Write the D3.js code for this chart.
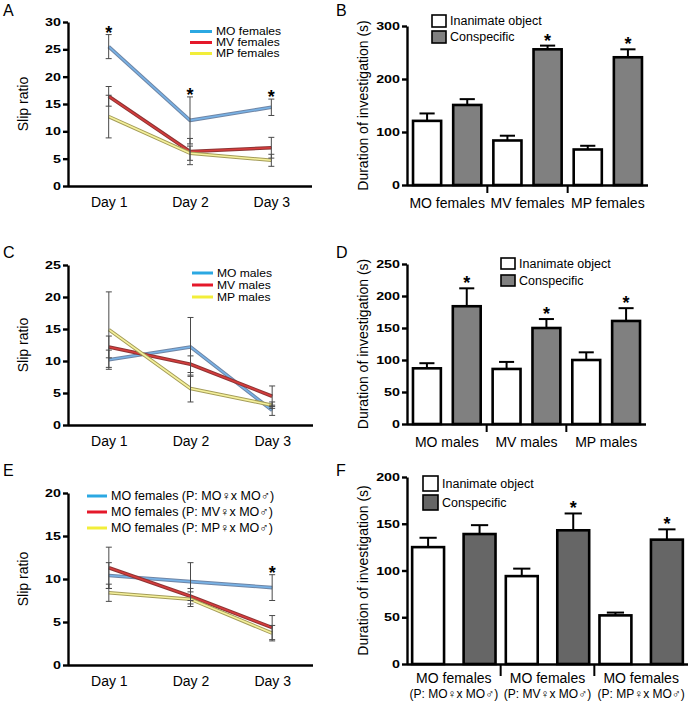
<!DOCTYPE html>
<html><head><meta charset="utf-8">
<script src="https://cdn.jsdelivr.net/npm/d3@7"></script>
<style>
body{margin:0;background:#fff}
svg{display:block}
</style>
</head><body>
<svg id="c" width="693" height="704"></svg>
<script>
// ---------- DATA ----------
const days = ["Day 1", "Day 2", "Day 3"];

// Panel A (slip ratio, females)
const aNames = ["MO females", "MV females", "MP females"];
const aMO = [25.5, 12.0, 14.4];  const aMOErr = [2.2, 4.3, 1.5];
const aMV = [16.4, 6.3, 7.0];    const aMVErr = [1.8, 2.4, 1.9];
const aMP = [12.7, 6.0, 4.7];    const aMPErr = [3.9, 1.3, 1.1];
const aStars = [true, true, true];
const aTicks = [0, 5, 10, 15, 20, 25, 30];

// Panel C (slip ratio, males)
const cNames = ["MO males", "MV males", "MP males"];
const cMO = [10.2, 12.2, 2.3];   const cMOErr = [1.5, 4.6, 0.8];
const cMV = [12.2, 9.5, 4.5];    const cMVErr = [1.7, 1.3, 1.6];
const cMP = [14.9, 5.7, 3.1];    const cMPErr = [5.9, 2.1, 0.5];
const cStars = [false, false, false];
const cTicks = [0, 5, 10, 15, 20, 25];

// Panel E (slip ratio, MO females from crosses)
const eNames = ["MO females (P: MO\u2640x MO\u2642)", "MO females (P: MV\u2640x MO\u2642)", "MO females (P: MP\u2640x MO\u2642)"];
const eMO = [10.4, 9.7, 9.0];    const eMOErr = [1.5, 2.2, 1.5];
const eMV = [11.3, 8.0, 4.35];   const eMVErr = [2.4, 0.9, 1.4];
const eMP = [8.4, 7.65, 3.7];    const eMPErr = [1.0, 0.85, 0.9];
const eStars = [false, false, true];
const eTicks = [0, 5, 10, 15, 20];

// Bar panels
const barSeries = ["Inanimate object", "Conspecific"];

const bGroups = ["MO females", "MV females", "MP females"];
const bObject = [121, 84, 67];        const bObjectErr = [14, 9, 7];
const bConspecific = [151, 256, 241]; const bConspecificErr = [11, 7, 15];
const bStars = [false, true, true];
const bTicks = [0, 100, 200, 300];

const dGroups = ["MO males", "MV males", "MP males"];
const dObject = [87, 86, 100];        const dObjectErr = [8, 11, 12];
const dConspecific = [184, 150, 161]; const dConspecificErr = [28, 14, 20];
const dStars = [true, true, true];
const dTicks = [0, 50, 100, 150, 200, 250];

const fGroups = ["MO females", "MO females", "MO females"];
const fParents = ["(P: MO\u2640x MO\u2642)", "(P: MV\u2640x MO\u2642)", "(P: MP\u2640x MO\u2642)"];
const fObject = [125, 94, 52];        const fObjectErr = [10, 8, 3];
const fConspecific = [139, 143, 133]; const fConspecificErr = [9.5, 18, 11];
const fStars = [false, true, true];
const fTicks = [0, 50, 100, 150, 200];

// ---------- STYLE ----------
const FONT = '"Liberation Sans", Arial, Helvetica, sans-serif';
const lineStyles = [
  {edge: "#6f86a6", core: "#78b2e6", legend: "#2ba8e2"},
  {edge: "#8e3434", core: "#d63c3c", legend: "#e4182a"},
  {edge: "#a49c58", core: "#f5f19c", legend: "#f2ee3a"}
];

const svg = d3.select("#c");

function stretch(sel, sx) {
  sel.each(function () {
    const t = d3.select(this);
    const x = +t.attr("x") || 0;
    t.attr("transform", `translate(${x},0) scale(${sx},1) translate(${-x},0)`);
  });
}

function panelLetter(t, x, y) {
  svg.append("text").attr("x", x).attr("y", y).text(t)
    .attr("font-family", FONT).attr("font-size", 16).attr("fill", "#000");
}

function styleAxis(sel, w) {
  sel.attr("font-family", FONT);
  sel.select(".domain").attr("stroke", "#000").attr("stroke-width", w);
  sel.selectAll(".tick line").attr("stroke", "#000").attr("stroke-width", w);
  sel.selectAll(".tick text").attr("fill", "#000");
}

function yAxis(g, y, p) {
  const ya = g.append("g").attr("transform", `translate(${p.x0},0)`)
    .call(d3.axisLeft(y).tickValues(p.ticks).tickSize(5).tickPadding(2).tickSizeOuter(0));
  styleAxis(ya, 2.4);
  const tt = ya.selectAll(".tick text").attr("font-size", 11).attr("font-weight", "bold");
  stretch(tt, 1.3);
  return ya;
}

function linePanel(p) {
  const g = svg.append("g");
  const x = d3.scalePoint().domain(days).range([p.x0, p.x1]).padding(0.5);
  const y = d3.scaleLinear().domain([0, p.max]).range([p.yZero, p.yTop]);

  yAxis(g, y, p);

  const xa = g.append("g").attr("transform", `translate(0,${p.yZero})`)
    .call(d3.axisBottom(x).tickSize(0).tickPadding(11).tickSizeOuter(0));
  styleAxis(xa, 2.4);
  xa.select(".domain").attr("d", `M${p.x0},0.5H${p.x1}`);
  xa.selectAll(".tick text").attr("font-size", 14);

  const line = d3.line().x((d, i) => x(days[i])).y(d => y(d));
  p.series.forEach((s, k) => {
    g.append("path").attr("d", line(s.values)).attr("fill", "none")
      .attr("stroke", lineStyles[k].edge).attr("stroke-width", 3.6).attr("stroke-linejoin", "round");
    g.append("path").attr("d", line(s.values)).attr("fill", "none")
      .attr("stroke", lineStyles[k].core).attr("stroke-width", 1.6).attr("stroke-linejoin", "round");
  });

  p.series.forEach(s => {
    s.values.forEach((v, i) => {
      const cx = x(days[i]), lo = y(v - s.err[i]), hi = y(v + s.err[i]);
      g.append("line").attr("x1", cx).attr("x2", cx).attr("y1", lo).attr("y2", hi)
        .attr("stroke", "#4a4a4a").attr("stroke-width", 1);
      [lo, hi].forEach(yy => g.append("line").attr("x1", cx - 3).attr("x2", cx + 3)
        .attr("y1", yy).attr("y2", yy).attr("stroke", "#4a4a4a").attr("stroke-width", 1));
    });
  });

  p.stars.forEach((st, i) => {
    if (!st) return;
    const top = d3.max(p.series, s => s.values[i] + s.err[i]);
    g.append("text").attr("x", x(days[i])).attr("y", y(top) + 4).attr("text-anchor", "middle")
      .attr("font-family", FONT).attr("font-size", 18).attr("font-weight", "bold").text("*");
  });

  g.append("text").attr("transform", `translate(${p.labelX},${(p.yZero + p.yTop) / 2}) rotate(-90)`)
    .attr("text-anchor", "middle").attr("dy", "0.35em")
    .attr("font-family", FONT).attr("font-size", 14).text("Slip ratio");

  p.series.forEach((s, k) => {
    const ly = p.legY + k * p.legStep;
    g.append("line").attr("x1", p.legX).attr("x2", p.legX + p.legLen).attr("y1", ly).attr("y2", ly)
      .attr("stroke", lineStyles[k].legend).attr("stroke-width", 3);
    const t = g.append("text").attr("x", p.legX + p.legLen + 4).attr("y", ly).attr("dy", "0.35em")
      .attr("font-family", FONT).attr("font-size", p.legFont).text(s.name);
    stretch(t, p.legStretch);
  });
}

function barPanel(p) {
  const g = svg.append("g");
  const x = d3.scaleBand().domain(d3.range(p.groups.length)).range([p.x0, p.x1]).padding(0);
  const xi = d3.scaleBand().domain([0, 1]).range([0, x.bandwidth()]).paddingInner(p.pi).paddingOuter(p.po);
  const y = d3.scaleLinear().domain([0, p.max]).range([p.yZero, p.yTop]);

  yAxis(g, y, p);

  const xa = g.append("g").attr("transform", `translate(0,${p.yZero})`)
    .call(d3.axisBottom(x).tickSize(0).tickFormat("").tickSizeOuter(0));
  styleAxis(xa, 2.4);
  xa.select(".domain").attr("d", `M${p.x0},0.5H${p.x1}`);
  d3.range(1, p.groups.length).forEach(i => {
    g.append("line").attr("x1", x(i)).attr("x2", x(i)).attr("y1", p.yZero).attr("y2", p.yZero + p.sepLen)
      .attr("stroke", "#000").attr("stroke-width", 2);
  });

  const sets = [{v: p.obj, e: p.objErr, fill: "#ffffff"}, {v: p.con, e: p.conErr, fill: p.grey}];
  sets.forEach((s, k) => {
    s.v.forEach((v, i) => {
      const bx = x(i) + xi(k), bw = xi.bandwidth(), cx = bx + bw / 2;
      g.append("rect").attr("x", bx).attr("y", y(v)).attr("width", bw).attr("height", p.yZero - y(v))
        .attr("fill", s.fill).attr("stroke", "#000").attr("stroke-width", 2.6);
      const hi = y(v + s.e[i]);
      g.append("line").attr("x1", cx).attr("x2", cx).attr("y1", y(v)).attr("y2", hi)
        .attr("stroke", "#000").attr("stroke-width", 2);
      g.append("line").attr("x1", cx - bw * 0.27).attr("x2", cx + bw * 0.27).attr("y1", hi).attr("y2", hi)
        .attr("stroke", "#000").attr("stroke-width", 2);
      if (k === 1 && p.stars[i]) {
        g.append("text").attr("x", cx).attr("y", hi + 1).attr("text-anchor", "middle")
          .attr("font-family", FONT).attr("font-size", 18).attr("font-weight", "bold").text("*");
      }
    });
  });

  p.groups.forEach((t, i) => {
    g.append("text").attr("x", x(i) + x.bandwidth() / 2).attr("y", p.yZero + p.labOff)
      .attr("text-anchor", "middle").attr("font-family", FONT).attr("font-size", 14).text(t);
    if (p.sub) {
      g.append("text").attr("x", x(i) + x.bandwidth() / 2).attr("y", p.yZero + p.labOff + 15)
        .attr("text-anchor", "middle").attr("font-family", FONT).attr("font-size", 12).text(p.sub[i]);
    }
  });

  g.append("text").attr("transform", `translate(${p.labelX},${(p.yZero + p.yTop) / 2}) rotate(-90)`)
    .attr("text-anchor", "middle").attr("dy", "0.35em")
    .attr("font-family", FONT).attr("font-size", 14).text("Duration of investigation (s)");

  barSeries.forEach((t, k) => {
    const ly = p.legY + k * p.legStep;
    g.append("rect").attr("x", p.legX).attr("y", ly).attr("width", p.legW).attr("height", p.legH)
      .attr("fill", k === 0 ? "#fff" : p.grey).attr("stroke", "#000").attr("stroke-width", 1.6);
    g.append("text").attr("x", p.legX + p.legW + 4).attr("y", ly + p.legH / 2).attr("dy", "0.35em")
      .attr("font-family", FONT).attr("font-size", 12.5).text(t);
  });
}

// ---------- DRAW ----------
panelLetter("A", 3, 16); panelLetter("B", 336, 16);
panelLetter("C", 3, 258); panelLetter("D", 336, 258);
panelLetter("E", 3, 476); panelLetter("F", 336, 476);

linePanel({x0: 68, x1: 312, yZero: 186, yTop: 22, max: 30, ticks: aTicks, labelX: 23,
  series: [{name: aNames[0], values: aMO, err: aMOErr}, {name: aNames[1], values: aMV, err: aMVErr}, {name: aNames[2], values: aMP, err: aMPErr}],
  stars: aStars, legX: 190, legY: 31.5, legStep: 11, legLen: 22, legFont: 11, legStretch: 1.1});

linePanel({x0: 68, x1: 313, yZero: 425, yTop: 265, max: 25, ticks: cTicks, labelX: 23,
  series: [{name: cNames[0], values: cMO, err: cMOErr}, {name: cNames[1], values: cMV, err: cMVErr}, {name: cNames[2], values: cMP, err: cMPErr}],
  stars: cStars, legX: 192, legY: 273, legStep: 12, legLen: 21, legFont: 11, legStretch: 1.1});

linePanel({x0: 68, x1: 313, yZero: 665, yTop: 493, max: 20, ticks: eTicks, labelX: 23,
  series: [{name: eNames[0], values: eMO, err: eMOErr}, {name: eNames[1], values: eMV, err: eMVErr}, {name: eNames[2], values: eMP, err: eMPErr}],
  stars: eStars, legX: 87, legY: 496, legStep: 16, legLen: 20, legFont: 12.5, legStretch: 1});

barPanel({x0: 407, x1: 648, yZero: 185, yTop: 26, max: 300, ticks: bTicks, labelX: 363,
  groups: bGroups, obj: bObject, objErr: bObjectErr, con: bConspecific, conErr: bConspecificErr, stars: bStars,
  pi: 0.3, po: 0.15, grey: "#808080", sepLen: 8, labOff: 23,
  legX: 432, legY: 15, legStep: 16, legW: 14, legH: 12});

barPanel({x0: 407, x1: 646, yZero: 424, yTop: 264, max: 250, ticks: dTicks, labelX: 363,
  groups: dGroups, obj: dObject, objErr: dObjectErr, con: dConspecific, conErr: dConspecificErr, stars: dStars,
  pi: 0.3, po: 0.15, grey: "#808080", sepLen: 8, labOff: 23,
  legX: 501, legY: 258, legStep: 17, legW: 14, legH: 11});

barPanel({x0: 407, x1: 688, yZero: 664, yTop: 477, max: 200, ticks: fTicks, labelX: 363,
  groups: fGroups, sub: fParents, obj: fObject, objErr: fObjectErr, con: fConspecific, conErr: fConspecificErr, stars: fStars,
  pi: 0.38, po: 0.1, grey: "#666666", sepLen: 12, labOff: 19,
  legX: 423, legY: 476, legStep: 19, legW: 15, legH: 15});
</script>
</body></html>
